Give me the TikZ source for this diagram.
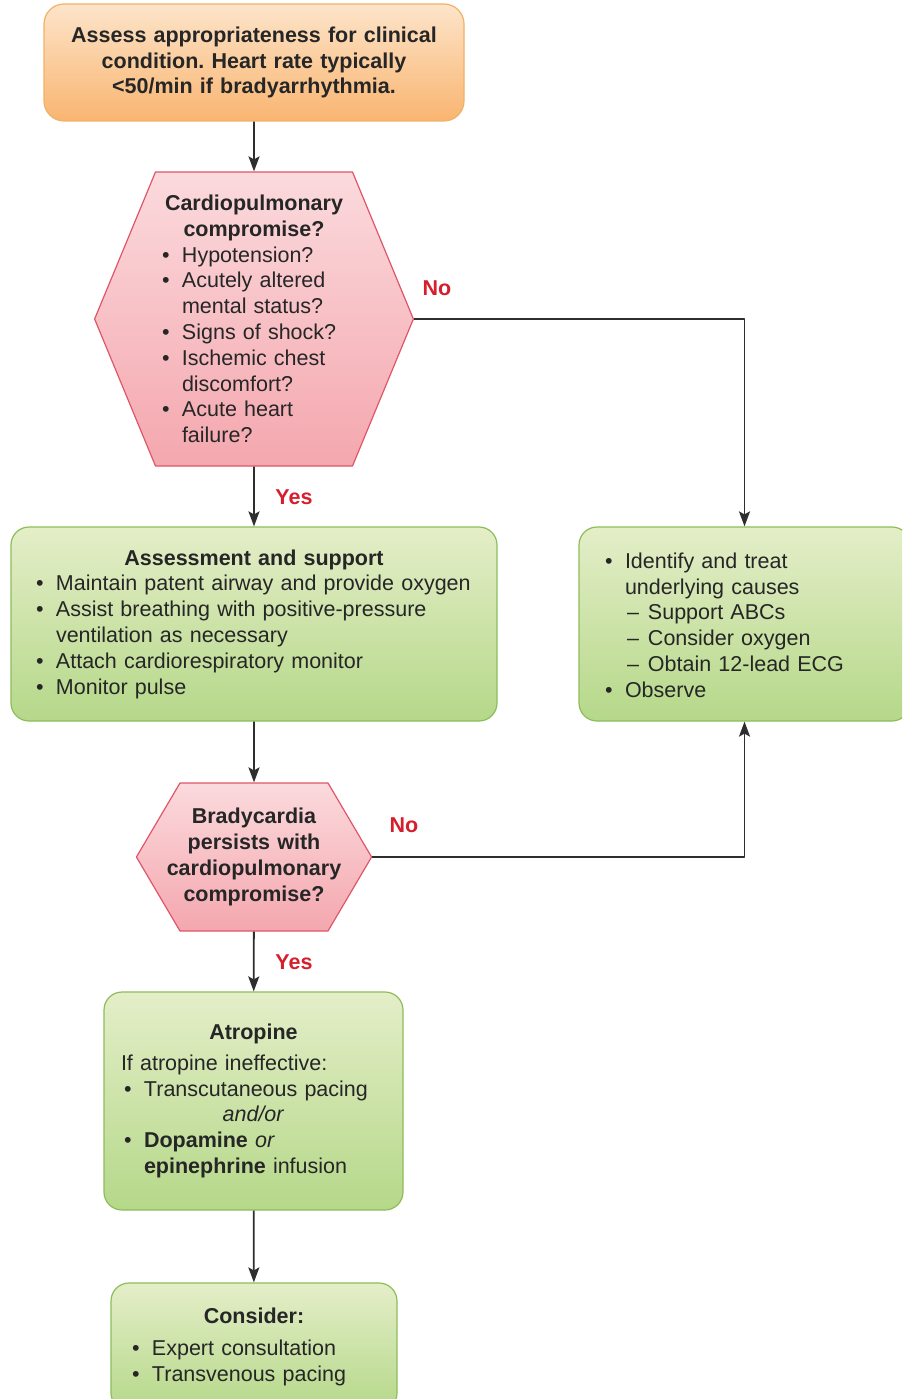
\documentclass[tikz,border=0pt]{standalone}
\usepackage{fontspec}
\setmainfont{Liberation Sans}
\usetikzlibrary{arrows.meta,shapes.symbols}

\definecolor{ink}{HTML}{262626}
\definecolor{linkgray}{HTML}{2E2E2E}
\definecolor{nored}{HTML}{D51F2D}
\definecolor{orgtop}{HTML}{FDE4CA}
\definecolor{orgbot}{HTML}{F9B570}
\definecolor{orgline}{HTML}{F2B168}
\definecolor{pnktop}{HTML}{FBDADD}
\definecolor{pnkbot}{HTML}{F4A7AE}
\definecolor{pnkline}{HTML}{DF5668}
\definecolor{grntop}{HTML}{E4EEC8}
\definecolor{grnbot}{HTML}{B5D889}
\definecolor{grnline}{HTML}{8DBD5A}

\newcommand{\bul}{\par\noindent\hangindent=20pt\hangafter=1\makebox[20pt][l]{\textbullet}}
\newcommand{\dsh}{\par\noindent\hangindent=43pt\hangafter=1\hspace*{22pt}\makebox[21pt][l]{–}}
\frenchspacing

\begin{document}
\begin{tikzpicture}[
    x=1pt, y=-1pt, line join=round,
    font=\fontsize{21.5}{25.8}\selectfont, text=ink,
    obox/.style={draw=orgline, line width=1.2pt, rounded corners=20pt,
      top color=orgtop, bottom color=orgbot, inner sep=0pt, align=center},
    gbox/.style={draw=grnline, line width=1.2pt, rounded corners=18pt,
      top color=grntop, bottom color=grnbot, inner sep=0pt, align=left},
    hexq/.style={shape=signal, signal to=west and east, draw=pnkline,
      line width=1.2pt, top color=pnktop, bottom color=pnkbot, inner ysep=0pt},
    link/.style={draw=linkgray, line width=1.8pt,
      -{Stealth[length=15pt, width=11pt, inset=3pt]}},
    ans/.style={text=nored, font=\fontsize{21.5}{25.8}\selectfont\bfseries}]
  \useasboundingbox (0,0) rectangle (902,1399);
  \clip (0,0) rectangle (902,1399);
  % Start
  \node[obox, minimum width=420pt, minimum height=117pt, text width=400pt]
    (start) at (254,62.5)
    {\textbf{Assess appropriateness for clinical\\condition. Heart rate typically\\<50/min if bradyarrhythmia.}};
  % First question
  \node[hexq, signal pointer angle=135, text width=184pt, inner xsep=6.5pt,
    minimum height=294pt, align=left] (cpc) at (254,319)
    {{\centering\textbf{Cardiopulmonary\\compromise?}\par}%
     \bul Hypotension?\bul Acutely altered\newline mental status?\bul Signs of shock?%
     \bul Ischemic chest\newline discomfort?\bul Acute heart\newline failure?\par};
  % Support
  \node[gbox, minimum width=486pt, minimum height=194pt, text width=436pt]
    (assess) at (254,624)
    {{\centering\textbf{Assessment and support}\par}%
     \bul Maintain patent airway and provide oxygen%
     \bul Assist breathing with positive-pressure\newline ventilation as necessary%
     \bul Attach cardiorespiratory monitor\bul Monitor pulse\par};
  \node[gbox, minimum width=331pt, minimum height=194pt, text width=279pt]
    (obs) at (744.5,624)
    {\bul Identify and treat\newline underlying causes\dsh Support ABCs\dsh Consider oxygen%
     \dsh Obtain 12-lead ECG\bul Observe\par\vspace*{8pt}};
  % Second question
  \node[hexq, signal pointer angle=119, text width=180pt, inner xsep=-16pt,
    minimum height=148pt, align=center] (brady) at (254,857)
    {\textbf{Bradycardia\\persists with\\cardiopulmonary\\compromise?}};
  % Treatment
  \node[gbox, minimum width=299pt, minimum height=218pt, text width=259pt]
    (atro) at (253.5,1101)
    {{\centering\textbf{Atropine}\par}\vspace{5pt}%
     \noindent\hspace*{-3pt}If atropine ineffective:%
     \bul Transcutaneous pacing\par{\centering\textit{and/or}\par}%
     \bul\textbf{Dopamine} \textit{or}\newline\textbf{epinephrine} infusion\par};
  \node[gbox, minimum width=286pt, minimum height=128pt, text width=244pt]
    (consider) at (254,1347)
    {{\centering\textbf{Consider:}\par}\vspace{6pt}%
     \bul Expert consultation\bul Transvenous pacing\par};
  % Answers
  \node[ans] (no1) at (437,288) {No};
  \node[ans] (yes1) at (294,497) {Yes};
  \node[ans] (no2) at (404,825) {No};
  \node[ans] (yes2) at (294,962) {Yes};
  % Connectors
  \draw[link] (start) -- (cpc);
  \draw[link] (cpc) -- (assess);
  \draw[link] (cpc.east) -| (obs.north);
  \draw[link] (assess) -- (brady);
  \draw[link] (brady.east) -| (obs.south);
  \draw[link] (brady) -- (atro);
  \draw[link] (atro) -- (consider);
\end{tikzpicture}
\end{document}
